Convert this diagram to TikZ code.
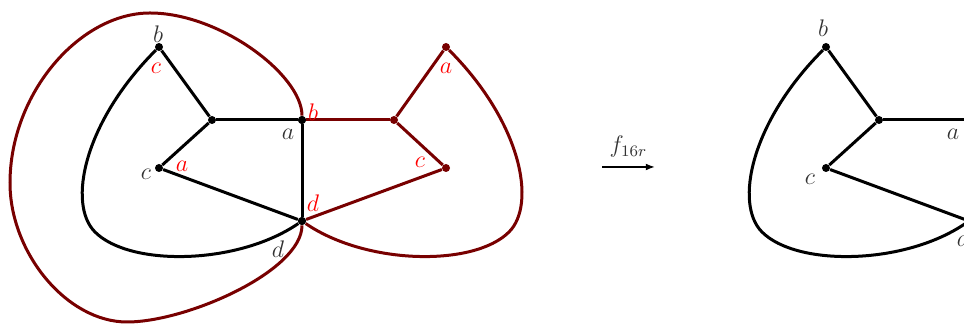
\documentclass[tikz,border=0pt]{standalone}
\usepackage{amsmath, amssymb}
\usepackage{tikz}
\usetikzlibrary{arrows.meta, positioning}
\definecolor{darkred}{RGB}{120,0,0}
\definecolor{lblred}{RGB}{255,0,0}

\begin{document}
\begin{tikzpicture}[
    x=0.5pt, y=-0.5pt,
    vtx/.style={circle, fill=black, inner sep=0pt, minimum size=4pt},
    rvtx/.style={circle, fill=darkred, inner sep=0pt, minimum size=4pt},
    edge/.style={line width=1.5pt, black},
    redge/.style={line width=1.5pt, darkred},
    lbl/.style={font=\large, text=black!80, inner sep=0pt},
    rlbl/.style={font=\large, text=lblred, inner sep=0pt},
    arrow/.style={-{Latex[length=1.6mm, width=1.2mm]}, thick}
]
\useasboundingbox (0,0) rectangle (964,324);

% --- Left graph (black) ---
\node[vtx] (lb) at (159,47) {};
\node[vtx] (lo) at (212,120) {};
\node[vtx] (la) at (302,120) {};
\node[vtx] (lc) at (159,168) {};
\node[vtx] (ld) at (302,221) {};
\coordinate (lk) at (95,232);
\draw[edge] (lb) -- (lo);
\draw[edge] (lo) -- (la);
\draw[edge] (lo) -- (lc);
\draw[edge] (lc) -- (ld);
\draw[edge] (la) -- (ld);
\draw[edge] (lb) .. controls +(-75,75) and +(-28,-28) .. (lk)
    .. controls +(35,35) and +(-64,44) .. (ld);

% --- Mirrored graph (red) ---
\node[rvtx] (ro) at (394,120) {};
\node[rvtx] (ra) at (446,47) {};
\node[rvtx] (rc) at (446,168) {};
\coordinate (rk) at (509,232);
\coordinate (rt) at (150,13);
\coordinate (rl) at (10,183);
\coordinate (rm) at (127,322);
\draw[redge] (la) -- (ro);
\draw[redge] (ro) -- (ra);
\draw[redge] (ro) -- (rc);
\draw[redge] (rc) -- (ld);
\draw[redge] (ra) .. controls +(75,75) and +(28,-28) .. (rk)
    .. controls +(-35,35) and +(64,44) .. (ld);
% outer loop
\draw[redge] (la) .. controls +(0,-45) and +(70,0) .. (rt)
    .. controls +(-70,0) and +(0,-90) .. (rl)
    .. controls +(0,70) and +(-60,0) .. (rm)
    .. controls +(60,0) and +(0,50) .. (ld);
\node[vtx] at (la) {};
\node[vtx] at (ld) {};

% --- Labels, left ---
\node[lbl] (tb) at (158,34) {$b$};
\node[lbl] (tc) at (146,174) {$c$};
\node[lbl] (ta) at (288,134) {$a$};
\node[lbl] (td) at (278,249) {$d$};
\node[rlbl] (sc) at (156,68) {$c$};
\node[rlbl] (sa) at (182,166) {$a$};
\node[rlbl] (sb) at (313,112) {$b$};
\node[rlbl] (sd) at (313,203) {$d$};
\node[rlbl] (sa2) at (446,68) {$a$};
\node[rlbl] (sc2) at (420,162) {$c$};

% --- Map arrow ---
\coordinate (fs) at (602,167);
\coordinate (fe) at (655,167);
\draw[arrow] (fs) -- node[above, lbl, inner sep=4.5pt] (fname) {$f_{16r}$} (fe);

% --- Right graph (image) ---
\node[vtx] (mb) at (826,47) {};
\node[vtx] (mo) at (879,120) {};
\node[vtx] (ma) at (969,120) {};
\node[vtx] (mc) at (826,168) {};
\node[vtx] (md) at (969,221) {};
\coordinate (mk) at (762,232);
\draw[edge] (mb) -- (mo);
\draw[edge] (mo) -- (ma);
\draw[edge] (mo) -- (mc);
\draw[edge] (mc) -- (md);
\draw[edge] (ma) -- (md);
\draw[edge] (mb) .. controls +(-75,75) and +(-28,-28) .. (mk)
    .. controls +(35,35) and +(-64,44) .. (md);
\node[lbl] (ub) at (823,28) {$b$};
\node[lbl] (uc) at (810,179) {$c$};
\node[lbl] (ua) at (953,134) {$a$};
\node[lbl] (ud) at (963,238) {$d$};

\end{tikzpicture}
\end{document}
